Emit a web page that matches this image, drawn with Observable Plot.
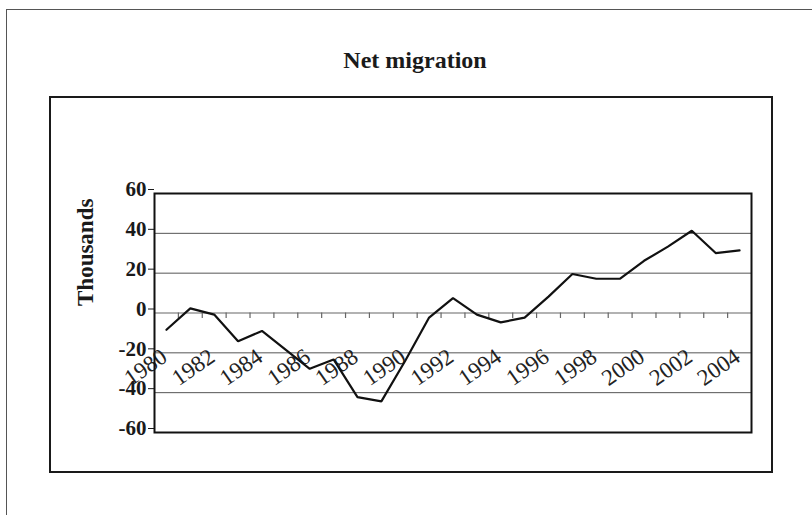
<!DOCTYPE html>
<html>
<head>
<meta charset="utf-8">
<script src="https://cdn.jsdelivr.net/npm/d3@7"></script>
<script src="https://cdn.jsdelivr.net/npm/@observablehq/plot@0.6"></script>
<style>
  html, body { margin: 0; padding: 0; background: #fff; overflow: hidden; }
  #wrap { position: relative; width: 812px; height: 515px; overflow: hidden; background: #fff; }
  #chart { position: absolute; left: 0; top: 0; }
  .outer { position: absolute; left: 6px; top: 9px; width: 900px; height: 600px; border: 1.5px solid #555; box-sizing: border-box; pointer-events: none; }
  .inner { position: absolute; left: 49px; top: 96px; width: 724px; height: 377px; border: 2px solid #1a1a1a; box-sizing: border-box; pointer-events: none; }
  .title { position: absolute; left: 315px; top: 48px; width: 200px; text-align: center; font: bold 24px/24px "Liberation Serif", "Times New Roman", serif; color: #1a1a1a; }
</style>
</head>
<body>
<div id="wrap">
  <div id="chart"></div>
  <div class="outer"></div>
  <div class="inner"></div>
  <div class="title">Net migration</div>
</div>
<script>
const years = [1980,1981,1982,1983,1984,1985,1986,1987,1988,1989,1990,1991,1992,1993,1994,1995,1996,1997,1998,1999,2000,2001,2002,2003,2004];
const netMigration = [-8.4,2.3,-0.8,-14.2,-9.0,-18.5,-28.0,-23.3,-42.2,-44.4,-24.0,-2.3,7.5,-0.8,-4.7,-2.3,8.2,19.6,17.2,17.2,26.2,33.3,41.3,30.1,31.4];
const xTickLabels = [1980,1982,1984,1986,1988,1990,1992,1994,1996,1998,2000,2002,2004];
const yTicks = [-60,-40,-20,0,20,40,60];
const gridValues = [-40,-20,20,40];
const yTitle = "Thousands";

const data = years.map((y, i) => ({year: y, value: netMigration[i]}));
const boundaries = years.slice(0, -1).map(y => y + 0.5);

const serif = "Liberation Serif, Times New Roman, serif";

const plot = Plot.plot({
  width: 812,
  height: 515,
  marginLeft: 154,
  marginRight: 61,
  marginTop: 193,
  marginBottom: 83,
  style: {background: "transparent", fontFamily: serif},
  x: {domain: [years[0] - 0.5, years[years.length - 1] + 0.5], axis: null},
  y: {domain: [yTicks[0], yTicks[yTicks.length - 1]], axis: null},
  marks: [
    Plot.ruleY(gridValues, {stroke: "#555", strokeWidth: 1}),
    Plot.ruleY([0], {stroke: "#666", strokeWidth: 1.2}),
    Plot.ruleX(boundaries, {x: d => d, y1: 0, y2: 0, insetBottom: -5.5, stroke: "#666", strokeWidth: 1.2}),
    Plot.axisY({ticks: yTicks, tickSize: 6, tickPadding: 2, tickFormat: d => String(d), fontSize: 21, fontWeight: "bold", fontFamily: serif, color: "#1a1a1a", dy: -4, label: null}),
    Plot.text([yTitle], {frameAnchor: "left", dx: -69, dy: -7, rotate: -90, text: d => d, fontSize: 23, fontWeight: "bold", fontFamily: serif, fill: "#1a1a1a"}),
    Plot.text(xTickLabels, {x: d => d, y: 0, dx: -2, dy: 41, text: d => String(d), rotate: -35, textAnchor: "end", lineAnchor: "middle", fontSize: 23, fontFamily: serif, fill: "#222"}),
    Plot.line(data, {x: "year", y: "value", stroke: "#111", strokeWidth: 2.2, strokeLinejoin: "miter"}),
    Plot.frame({stroke: "#111", strokeWidth: 2})
  ]
});
document.getElementById("chart").appendChild(plot);
</script>
</body>
</html>
